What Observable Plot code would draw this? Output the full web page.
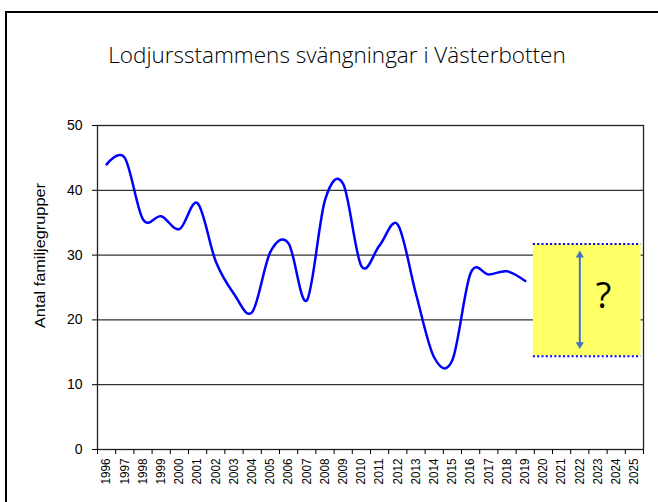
<!DOCTYPE html>
<html>
<head>
<meta charset="utf-8">
<script src="https://cdn.jsdelivr.net/npm/d3@7"></script>
<script src="https://cdn.jsdelivr.net/npm/@observablehq/plot@0.6"></script>
<style>
  html, body { margin: 0; padding: 0; background: #fff; overflow: hidden; }
  #wrap { position: relative; width: 658px; height: 502px; overflow: hidden; background: #fff; }
  #wrap svg { display: block; }
  #border { position: absolute; left: 5px; top: 11px; width: 800px; height: 800px; border: 2px solid #000; pointer-events: none; }
</style>
</head>
<body>
<div id="wrap"></div>
<script>
// ---- data ----
const titleText = "Lodjursstammens svängningar i Västerbotten";
const yLabel = "Antal familjegrupper";
const years = [1996, 1997, 1998, 1999, 2000, 2001, 2002, 2003, 2004, 2005, 2006, 2007,
               2008, 2009, 2010, 2011, 2012, 2013, 2014, 2015, 2016, 2017, 2018, 2019];
const counts = [44, 45, 35.5, 36, 34, 38, 29, 24, 21.2, 30.5, 31.8, 23,
                38.5, 41, 28.3, 31.5, 34.7, 24, 14.2, 13.8, 27.2, 27, 27.5, 26];
const axisYears = [1996, 1997, 1998, 1999, 2000, 2001, 2002, 2003, 2004, 2005,
                   2006, 2007, 2008, 2009, 2010, 2011, 2012, 2013, 2014, 2015,
                   2016, 2017, 2018, 2019, 2020, 2021, 2022, 2023, 2024, 2025];
const yTicks = [0, 10, 20, 30, 40, 50];
const gridValues = [10, 20, 30, 40];
const forecastRange = [14.4, 31.7];      // uncertain future interval (low, high)
const forecastYears = [2019.45, 2025.37]; // extent of the shaded box
const arrowYear = 2022;
const arrowRange = [15.5, 30.7];
const questionMark = "?";
const questionPos = [2023.3, 23.6];

const rows = years.map((y, i) => ({year: y, n: counts[i]}));
const boundaries = axisYears.map(y => y - 0.5).concat([axisYears[axisYears.length - 1] + 0.5]);

const wrap = document.getElementById("wrap");

// ---- title (header svg) ----
const head = d3.select(wrap).append("svg").attr("width", 658).attr("height", 100);
const t = head.append("text")
  .attr("x", 337).attr("y", 62.5)
  .attr("text-anchor", "middle")
  .attr("font-family", "Open Sans, sans-serif")
  .attr("font-weight", 300)
  .attr("font-size", 22)
  .attr("fill", "#000")
  .text(titleText);
const tw = t.node().getComputedTextLength();
t.attr("font-size", 22 * 458 / tw);

// ---- chart ----
const chart = Plot.plot({
  width: 658,
  height: 402,
  marginTop: 25,
  marginBottom: 53,
  marginLeft: 97,
  marginRight: 15,
  style: {background: "transparent", fontFamily: "Liberation Sans, Arial, sans-serif", color: "#000"},
  x: {type: "linear", domain: [boundaries[0], boundaries[boundaries.length - 1]], axis: null},
  y: {domain: [0, 50], axis: null},
  marks: [
    Plot.ruleY(gridValues, {stroke: "#000", strokeWidth: 1}),
    Plot.rect([forecastRange], {x1: () => forecastYears[0], x2: () => forecastYears[1], y1: d => d[0], y2: d => d[1], fill: "#ffff66"}),
    Plot.ruleY(forecastRange, {x1: forecastYears[0], x2: forecastYears[1], stroke: "#0000ff", strokeWidth: 2, strokeDasharray: "2,2.3"}),
    Plot.ruleX([arrowYear], {y1: arrowRange[0] + 0.5, y2: arrowRange[1] - 0.5, stroke: "#4472c4", strokeWidth: 2}),
    Plot.dot([arrowRange[1]], {x: () => arrowYear, y: d => d, symbol: "triangle", r: 3, fill: "#4472c4", stroke: null, dy: 4.6}),
    Plot.dot([arrowRange[0]], {x: () => arrowYear, y: d => d, symbol: "triangle", r: 3, fill: "#4472c4", stroke: null, rotate: 180, dy: -4.6}),
    Plot.text([questionMark], {x: () => questionPos[0], y: () => questionPos[1], text: d => d, fontSize: 36, fontFamily: "Open Sans, sans-serif", fill: "#000"}),
    Plot.line(rows, {x: "year", y: "n", curve: "cardinal", stroke: "#0000ff", strokeWidth: 2.5}),
    Plot.frame({stroke: "#222", strokeWidth: 1.3}),
    Plot.axisY(yTicks, {anchor: "left", tickSize: 5, tickPadding: 10, fontSize: 14, tickFormat: d => String(d), label: null}),
    Plot.axisX(boundaries, {anchor: "bottom", tickSize: 5, tickFormat: () => "", label: null}),
    Plot.axisX(axisYears, {anchor: "bottom", tickSize: 0, tickPadding: 9, tickRotate: -90, fontSize: 12, tickFormat: d => String(d), label: null}),
    Plot.text([yLabel], {frameAnchor: "left", textAnchor: "middle", text: d => d, dx: -57, dy: -32, rotate: -90, fontSize: 14, fill: "#000"})
  ]
});
wrap.appendChild(chart);

// the reference's vertical text is stretched; match measured lengths
const yearSet = new Set(axisYears.map(String));
d3.select(chart).selectAll("text").each(function() {
  if (this.textContent === yLabel) {
    this.setAttribute("textLength", 145);
    this.setAttribute("lengthAdjust", "spacingAndGlyphs");
  } else if (yearSet.has(this.textContent)) {
    this.setAttribute("textLength", 26);
    this.setAttribute("lengthAdjust", "spacingAndGlyphs");
  }
});

const border = document.createElement("div");
border.id = "border";
wrap.appendChild(border);
</script>
</body>
</html>
